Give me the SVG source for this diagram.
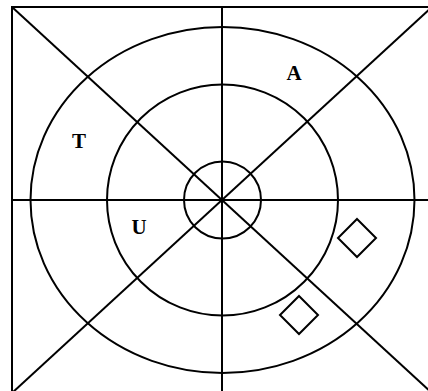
<svg xmlns="http://www.w3.org/2000/svg" width="428" height="391" viewBox="0 0 428 391">
<style>
.s{fill:none;stroke:#000;stroke-width:2}
.t{font-family:"Liberation Serif",serif;font-weight:bold;font-size:21px;fill:#000;text-anchor:middle}
</style>
<rect width="428" height="391" fill="#fff"/>
<g id="frame"><rect class="s" x="12" y="7" width="420" height="386"/></g>
<g id="outer"><ellipse class="s" cx="222.5" cy="200" rx="192" ry="173"/></g>
<g id="middle"><circle class="s" cx="222.5" cy="200" r="115.5"/></g>
<g id="inner"><circle class="s" cx="222.5" cy="200" r="38.5"/></g>
<g id="connectors">
<line class="s" x1="12" y1="200" x2="432" y2="200"/>
<line class="s" x1="222" y1="7" x2="222" y2="393"/>
<line class="s" x1="12" y1="7" x2="432" y2="393"/>
<line class="s" x1="432" y1="7" x2="12" y2="393"/>
</g>
<g id="labelT"><text class="t" x="79" y="148">T</text></g>
<g id="labelA"><text class="t" x="294" y="80">A</text></g>
<g id="labelU"><text class="t" x="139" y="234">U</text></g>
<g id="diamond1"><polygon class="s" points="357,219 376,238 357,257 338,238"/></g>
<g id="diamond2"><polygon class="s" points="299,296 318,315 299,334 280,315"/></g>
</svg>
